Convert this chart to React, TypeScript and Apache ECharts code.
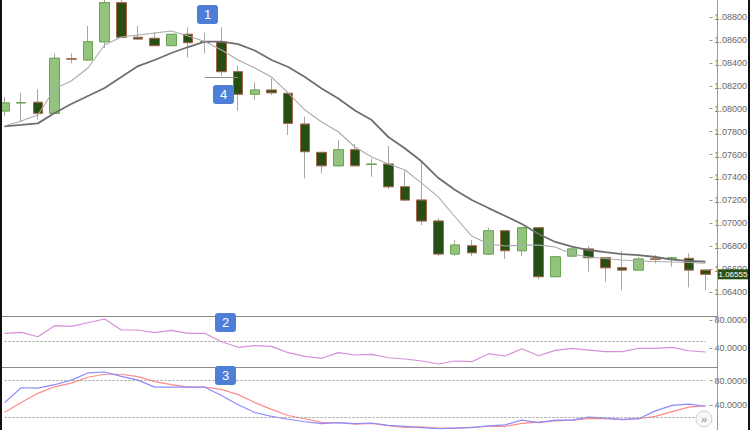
import React, { useEffect, useRef } from 'react';
import * as echarts from 'echarts';

const categories = Array.from({ length: 43 }, (_, i) => 'C' + (i + 1));

const opens = [1.07980, 1.08051, 1.08056, 1.07960, 1.08435, 1.08425, 1.08584, 1.08925, 1.08623, 1.08614, 1.08550, 1.08649, 1.08581, 1.08582, 1.08323, 1.08126, 1.08163, 1.08134, 1.07866, 1.07619, 1.07502, 1.07642, 1.07514, 1.07517, 1.07319, 1.07203, 1.07020, 1.06732, 1.06804, 1.06732, 1.06935, 1.06761, 1.06961, 1.06534, 1.06714, 1.06776, 1.06700, 1.06612, 1.06592, 1.06689, 1.06696, 1.06694, 1.06592];
const closes = [1.08050, 1.08053, 1.07960, 1.08440, 1.08433, 1.08584, 1.08925, 1.08623, 1.08608, 1.08550, 1.08649, 1.08576, 1.08583, 1.08323, 1.08126, 1.08163, 1.08139, 1.07872, 1.07625, 1.07502, 1.07642, 1.07502, 1.07516, 1.07319, 1.07203, 1.07020, 1.06732, 1.06810, 1.06743, 1.06935, 1.06761, 1.06961, 1.06534, 1.06708, 1.06776, 1.06700, 1.06612, 1.06592, 1.06688, 1.06687, 1.06698, 1.06592, 1.06555];
const lows = [1.07936, 1.07886, 1.07907, 1.07955, 1.08396, 1.08420, 1.08527, 1.08620, 1.08599, 1.08548, 1.08548, 1.08448, 1.08483, 1.08285, 1.07982, 1.08076, 1.08119, 1.07770, 1.07393, 1.07436, 1.07494, 1.07500, 1.07406, 1.07297, 1.07200, 1.06985, 1.06714, 1.06714, 1.06714, 1.06723, 1.06688, 1.06714, 1.06511, 1.06531, 1.06711, 1.06578, 1.06490, 1.06418, 1.06590, 1.06651, 1.06621, 1.06441, 1.06418];
const highs = [1.08102, 1.08139, 1.08169, 1.08483, 1.08483, 1.08721, 1.08966, 1.08950, 1.08721, 1.08672, 1.08652, 1.08710, 1.08663, 1.08710, 1.08375, 1.08230, 1.08265, 1.08137, 1.07930, 1.07622, 1.07727, 1.07692, 1.07564, 1.07674, 1.07456, 1.07537, 1.07046, 1.06854, 1.06854, 1.06961, 1.06938, 1.06964, 1.06964, 1.06711, 1.06796, 1.06802, 1.06703, 1.06758, 1.06708, 1.06723, 1.06708, 1.06738, 1.06595];

const maSlow = [1.07845, 1.07858, 1.07872, 1.07962, 1.08041, 1.08111, 1.08180, 1.08276, 1.08372, 1.08425, 1.08486, 1.08538, 1.08586, 1.08586, 1.08564, 1.08508, 1.08425, 1.08364, 1.08276, 1.08176, 1.08089, 1.07984, 1.07901, 1.07753, 1.07653, 1.07539, 1.07395, 1.07290, 1.07203, 1.07133, 1.07064, 1.06994, 1.06907, 1.06837, 1.06797, 1.06767, 1.06749, 1.06732, 1.06723, 1.06706, 1.06684, 1.06673, 1.06665];
const maFast = [1.07849, 1.07893, 1.07945, 1.08172, 1.08242, 1.08355, 1.08556, 1.08626, 1.08643, 1.08660, 1.08678, 1.08634, 1.08586, 1.08512, 1.08425, 1.08355, 1.08276, 1.08137, 1.07988, 1.07884, 1.07799, 1.07666, 1.07578, 1.07517, 1.07465, 1.07351, 1.07229, 1.07055, 1.06889, 1.06819, 1.06802, 1.06810, 1.06810, 1.06793, 1.06732, 1.06706, 1.06693, 1.06680, 1.06671, 1.06667, 1.06662, 1.06658, 1.06653];

const rsi = [61, 62.4, 56.1, 71.9, 71, 76.1, 81.4, 65.7, 65.7, 61.9, 65.3, 61, 61, 49, 41, 43.3, 42.4, 33.3, 28.1, 25.3, 33.3, 30, 31, 26.1, 24.3, 21.4, 17.1, 21.4, 20.4, 31.9, 28.6, 39, 29, 36.7, 39.6, 37.1, 34.7, 34.7, 39.6, 39.6, 41, 36.1, 34.3];
const stochK = [44.5, 68.6, 68, 73.5, 81, 92.6, 94.1, 87.1, 81, 69.5, 69.5, 69.5, 69.5, 55.9, 40.9, 28.4, 22, 17.4, 13.4, 10.4, 11.9, 10.4, 11.4, 7.4, 5.9, 4, 2, 3, 4, 6.6, 8.4, 15.9, 11.9, 15.9, 15.9, 20.9, 19.4, 16.8, 18.3, 31, 40, 42, 38.5];
const stochD = [28.4, 44.5, 59.5, 70.1, 76.1, 85.6, 90.5, 90.5, 86.6, 78.5, 73.5, 69.5, 69.5, 66, 57.4, 44.5, 33.4, 23.5, 18.3, 12.3, 11.9, 9.3, 10.8, 6.9, 4.4, 5, 3, 3, 4.5, 6, 5.9, 10.8, 12.9, 14.9, 15.9, 18.3, 18.3, 17.4, 18.3, 22, 29.9, 37, 39.4];

const rsiLevels = [50];
const stochLevels = [80, 20];
const annotationLevel = 1.08274;
const markers = [
  { label: '1', x: 197, y: 5 },
  { label: '4', x: 213, y: 85 },
  { label: '2', x: 215, y: 313 },
  { label: '3', x: 215, y: 366 },
];

const FONT = '"Liberation Sans", Arial, sans-serif';

export default function App() {
  const ref = useRef<HTMLDivElement>(null);
  useEffect(() => {
    const chart = echarts.init(ref.current!, null, { renderer: 'svg' });
    const wickData = opens.map((o, i) => [o, closes[i], lows[i], highs[i]]);
    const bodyData = opens.map((o, i) => [o, closes[i], Math.min(o, closes[i]), Math.max(o, closes[i])]);
    const axisLabel = { margin: 5, fontSize: 9, color: '#666', fontFamily: FONT };
    const axisTick = { show: true, length: 3, lineStyle: { color: '#999' } };
    const dashed = { color: '#9a9a9a', type: [2, 2] as any, width: 1 };
    const option: any = {
      animation: false,
      backgroundColor: '#fff',
      grid: [
        { left: 4.5, right: 37, top: 0, height: 315 },
        { left: 4.5, right: 37, top: 320, height: 28 },
        { left: 4.5, right: 37, top: 380.7, height: 53.2 },
      ],
      xAxis: [0, 1, 2].map((g) => ({
        type: 'category', gridIndex: g, data: categories, boundaryGap: false, show: false,
      })),
      yAxis: [
        {
          gridIndex: 0, type: 'value', position: 'right', offset: 4,
          min: 1.062, max: 1.089483, interval: 0.002, scale: true,
          axisLine: { show: false }, splitLine: { show: false }, axisTick,
          axisLabel: { ...axisLabel, showMinLabel: false, showMaxLabel: false, formatter: (v: number) => v.toFixed(5) },
        },
        {
          gridIndex: 1, type: 'value', position: 'right', offset: 4,
          min: 40, max: 80, interval: 40,
          axisLine: { show: false }, splitLine: { show: false }, axisTick,
          axisLabel: { ...axisLabel, formatter: (v: number) => v.toFixed(4) },
        },
        {
          gridIndex: 2, type: 'value', position: 'right', offset: 4,
          min: 0, max: 80, interval: 40,
          axisLine: { show: false }, splitLine: { show: false }, axisTick,
          axisLabel: { ...axisLabel, showMinLabel: false, formatter: (v: number) => v.toFixed(4) },
        },
      ],
      series: [
        {
          type: 'candlestick', xAxisIndex: 0, yAxisIndex: 0, data: wickData, barWidth: 10, clip: false,
          itemStyle: { color: 'rgba(0,0,0,0)', color0: 'rgba(0,0,0,0)', borderColor: '#a6a6a6', borderColor0: '#a6a6a6', borderWidth: 1 },
          silent: true,
        },
        {
          type: 'candlestick', xAxisIndex: 0, yAxisIndex: 0, data: bodyData, barWidth: 10, clip: false,
          itemStyle: { color: '#93c47d', color0: '#274e13', borderColor: '#6aa84f', borderColor0: '#a8664a', borderWidth: 1 },
          silent: true,
          markLine: {
            silent: true, symbol: ['none', 'none'], label: { show: false },
            lineStyle: { color: '#8c8c8c', type: 'solid', width: 1 },
            data: [[{ coord: [12, annotationLevel] }, { coord: [14, annotationLevel] }]],
          },
        },
        {
          type: 'line', xAxisIndex: 0, yAxisIndex: 0, data: maSlow, symbol: 'none', silent: true,
          lineStyle: { color: '#6e6e6e', width: 1.8 },
        },
        {
          type: 'line', xAxisIndex: 0, yAxisIndex: 0, data: maFast, symbol: 'none', silent: true,
          lineStyle: { color: '#ababab', width: 1.1 },
        },
        {
          type: 'line', xAxisIndex: 1, yAxisIndex: 1, data: rsi, symbol: 'none', silent: true, clip: false,
          lineStyle: { color: '#d58fd9', width: 1.2 },
          markLine: {
            silent: true, symbol: ['none', 'none'], label: { show: false }, lineStyle: dashed,
            data: rsiLevels.map((v) => ({ yAxis: v })),
          },
        },
        {
          type: 'line', xAxisIndex: 2, yAxisIndex: 2, data: stochD, symbol: 'none', silent: true, clip: false,
          lineStyle: { color: '#ff8c8c', width: 1.2 },
          markLine: {
            silent: true, symbol: ['none', 'none'], label: { show: false }, lineStyle: dashed,
            data: stochLevels.map((v) => ({ yAxis: v })),
          },
        },
        {
          type: 'line', xAxisIndex: 2, yAxisIndex: 2, data: stochK, symbol: 'none', silent: true, clip: false,
          lineStyle: { color: '#8c8cff', width: 1.2 },
        },
      ],
    };
    chart.setOption(option);

    const last = closes[closes.length - 1];
    const py = chart.convertToPixel({ yAxisIndex: 0 } as any, last) as number;

    const graphics: any[] = [
      { type: 'line', shape: { x1: 717.5, y1: 0, x2: 717.5, y2: 430 }, style: { stroke: '#999', lineWidth: 1 }, z: 50 },
      { type: 'line', shape: { x1: 0, y1: 316.5, x2: 717.5, y2: 316.5 }, style: { stroke: '#8a8a8a', lineWidth: 1 }, z: 50 },
      { type: 'line', shape: { x1: 0, y1: 367.5, x2: 717.5, y2: 367.5 }, style: { stroke: '#8a8a8a', lineWidth: 1 }, z: 50 },
      { type: 'rect', shape: { x: 0, y: 0, width: 2, height: 430 }, style: { fill: '#111' }, z: 60 },
      { type: 'rect', shape: { x: 748, y: 0, width: 2, height: 430 }, style: { fill: '#111' }, z: 60 },
      { type: 'rect', shape: { x: 718, y: py - 5, width: 32, height: 10 }, style: { fill: '#2b4f17' }, z: 55 },
      {
        type: 'text', x: 718.5, y: py, z: 56,
        style: { text: last.toFixed(5), fill: '#fff', font: '8px ' + FONT, textVerticalAlign: 'middle', verticalAlign: 'middle' },
      },
      { type: 'circle', shape: { cx: 704, cy: 419, r: 8 }, style: { fill: '#f7f7f7', stroke: '#d0d0d0', lineWidth: 1 }, z: 57 },
      {
        type: 'text', x: 704, y: 419, z: 58,
        style: { text: '»', fill: '#888', font: '11px ' + FONT, textAlign: 'center', align: 'center', textVerticalAlign: 'middle', verticalAlign: 'middle' },
      },
    ];
    markers.forEach((m) => {
      graphics.push({ type: 'rect', shape: { x: m.x, y: m.y, width: 21, height: 19, r: 3 }, style: { fill: '#4d7fd6' }, z: 70 });
      graphics.push({
        type: 'text', x: m.x + 10.5, y: m.y + 9.5, z: 71,
        style: { text: m.label, fill: '#fff', font: '13px ' + FONT, textAlign: 'center', align: 'center', textVerticalAlign: 'middle', verticalAlign: 'middle' },
      });
    });
    chart.setOption({ graphic: graphics });

    return () => chart.dispose();
  }, []);
  return <div ref={ref} style={{ position: 'fixed', left: 0, top: 0, width: 750, height: 430 }} />;
}
